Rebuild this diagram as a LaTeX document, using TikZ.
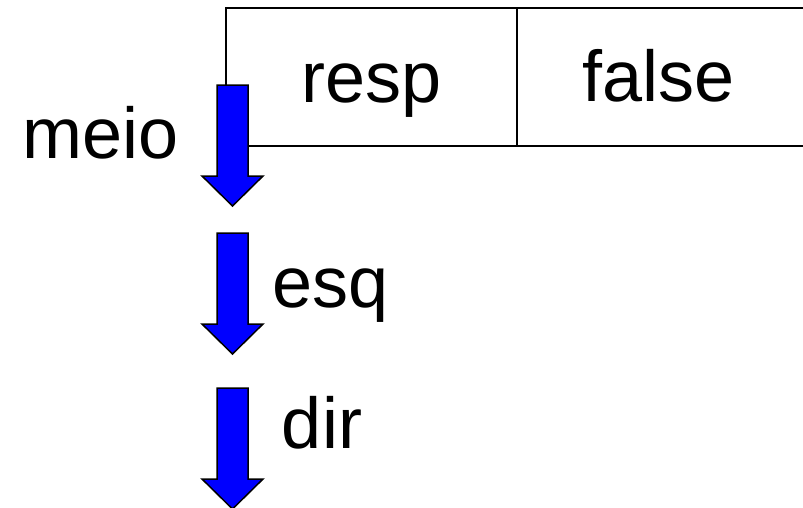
\documentclass[tikz,border=0pt]{standalone}
\usepackage{fontspec}
\setmainfont{Liberation Sans}
\begin{document}
\begin{tikzpicture}[x=1pt, y=-1pt, line width=1.5pt,
        lbl/.style = {anchor=base, inner sep=0pt,
            font=\fontsize{72}{80}\selectfont}]
        \tikzset{pics/downarr/.style = {code={
            \draw[fill=blue, line join=miter]
                (-15.5,0) -- (15.5,0) -- (15.5,91) -- (30.5,91) -- (0,121)
                -- (-30.5,91) -- (-15.5,91) -- cycle;}}}
        \useasboundingbox (0,0) rectangle (803,507);
        % record with two fields
        \coordinate (reclow) at (226,85);
        \coordinate (rectop) at (226,8);
        \coordinate (recend) at (803,8);
        \draw (reclow) -- (rectop) -- (recend);
        \draw (226,146) coordinate (botleft) -- (803,146) coordinate (botright);
        \draw (517,8) coordinate (divtop) -- (517,146) coordinate (divbot);
        \node[lbl] (resp) at (371.5,102) {resp};
        \node[lbl] (false) at (658.5,101) {false};
        % arrows and names
        \pic (meioarr) at (232.5,85) {downarr};
        \pic (esqarr) at (232.5,233) {downarr};
        \pic (dirarr) at (232.5,388) {downarr};
        \node[lbl] (meio) at (100.5,158) {meio};
        \node[lbl] (esq) at (330.5,307) {esq};
        \node[lbl] (dir) at (322,448) {dir};
      \end{tikzpicture}
\end{document}
